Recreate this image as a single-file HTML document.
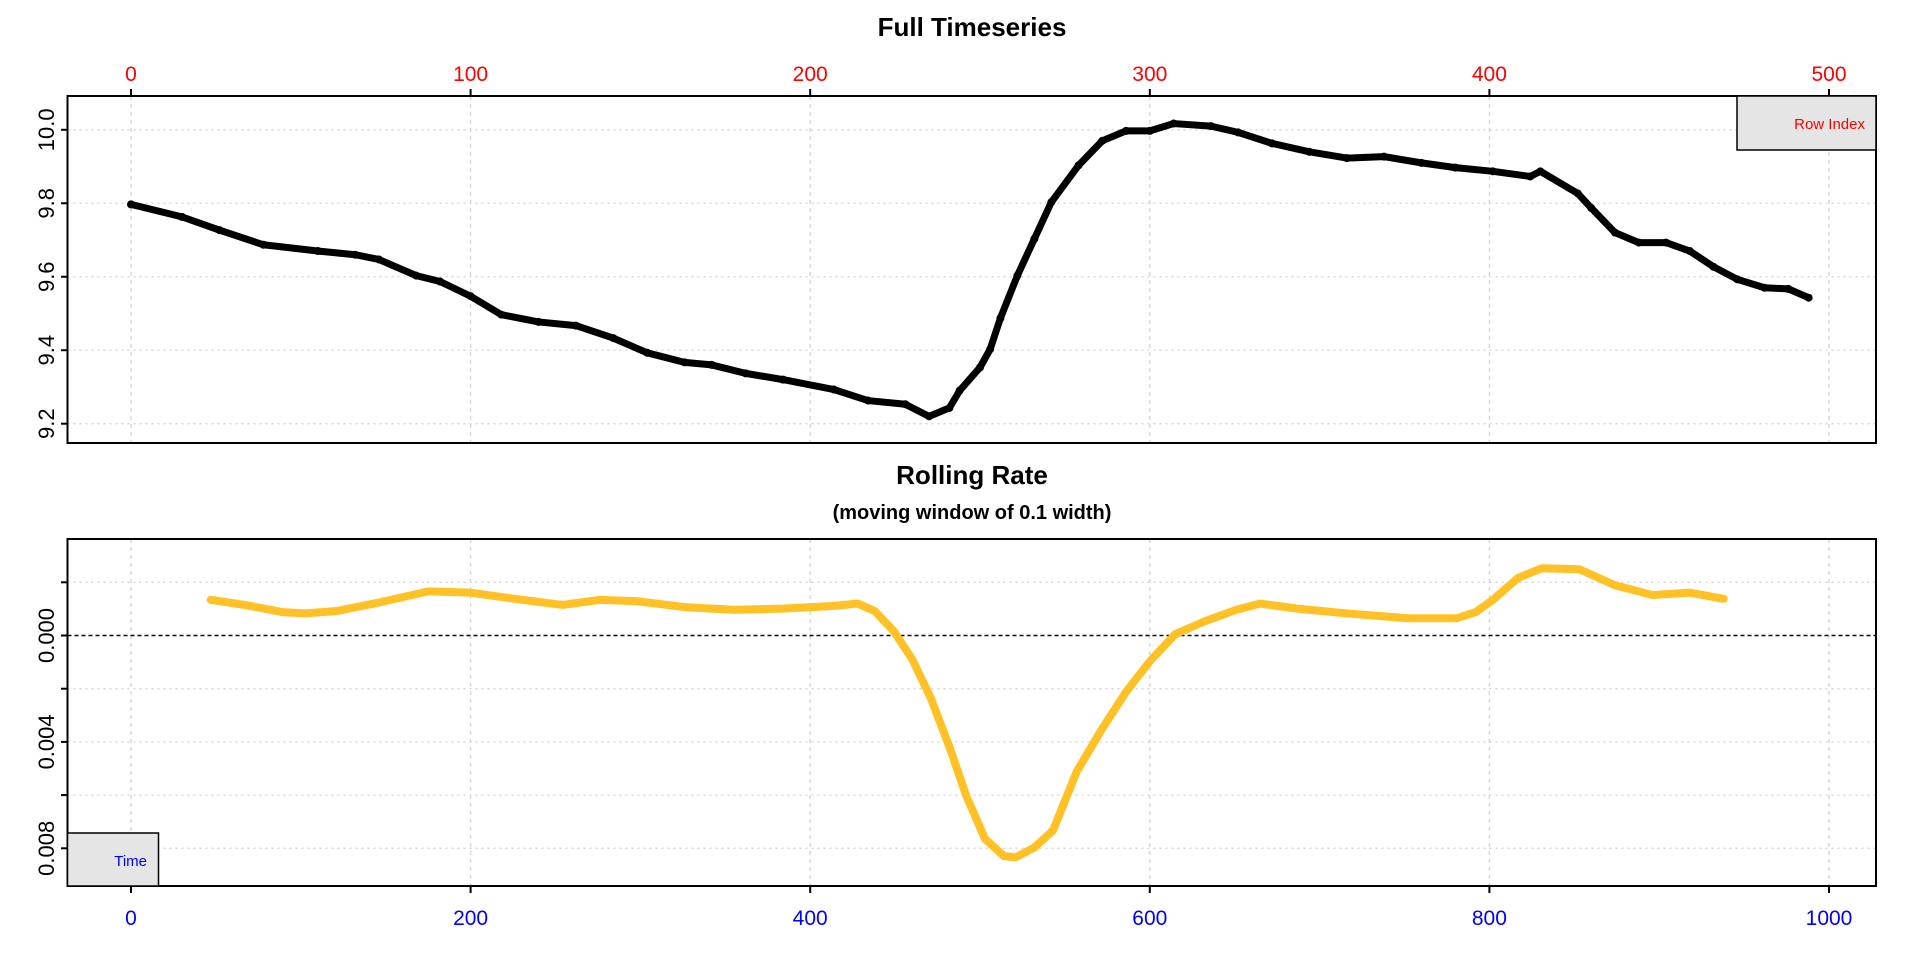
<!DOCTYPE html>
<html><head><meta charset="utf-8"><style>
html,body{margin:0;padding:0;background:#fff;}
svg{display:block;font-family:"Liberation Sans",sans-serif;}
</style></head><body>
<svg id="chart" width="1920" height="960" viewBox="0 0 1920 960">
<rect width="1920" height="960" fill="#fff"/>
<g id="top"></g><g id="bot"></g>
</svg>
<script>
// ---- top panel data ----
const topIndex = [0,15,26,39,55,66,73,84,91,100,109,120,131,142,152,163,171,181,192,207,217,228,235,241,244,250,253,256,261,266,271,279,286,293,300,307,318,326,336,347,358,369,380,390,401,412,415,426,430,437,444,452,459,466,473,481,488,494];
const topValues = [9.797,9.763,9.727,9.687,9.67,9.66,9.647,9.603,9.587,9.547,9.497,9.477,9.467,9.433,9.393,9.367,9.36,9.337,9.32,9.293,9.263,9.253,9.22,9.243,9.29,9.353,9.403,9.487,9.603,9.703,9.803,9.903,9.97,9.997,9.997,10.017,10.01,9.993,9.963,9.94,9.923,9.927,9.91,9.897,9.887,9.873,9.887,9.827,9.787,9.72,9.693,9.693,9.67,9.627,9.593,9.57,9.567,9.543];
const topXTicks = [0,100,200,300,400,500];
const topYTicks = [9.2,9.4,9.6,9.8,10.0];
// ---- bottom panel data ----
const rateTime = [47,67,89,103,121,146,175,200,226,254,276,298,327,355,384,413,428,438,449,460,471,482,492,503,514,521,532,543,557,572,586,600,615,633,651,665,687,716,752,781,792,802,817,831,853,874,896,918,938];
const rateValues = [-0.00134,-0.00115,-0.00088,-0.00083,-0.00092,-0.00124,-0.00166,-0.00161,-0.00138,-0.00115,-0.00134,-0.00129,-0.00106,-0.00097,-0.00101,-0.00111,-0.0012,-0.00092,-0.00018,0.00088,0.00235,0.00419,0.00604,0.00765,0.00829,0.00834,0.00797,0.00733,0.00511,0.0035,0.00212,0.00097,-0.00005,-0.00055,-0.00097,-0.0012,-0.00101,-0.00083,-0.00065,-0.00065,-0.00088,-0.00134,-0.00217,-0.00253,-0.00249,-0.00189,-0.00152,-0.00161,-0.00138];
const botXTicks = [0,200,400,600,800,1000];
const botYTicks = [-0.002,0,0.002,0.004,0.006,0.008];
const botYLabels = ["","0.000","","0.004","","0.008"];

const NS="http://www.w3.org/2000/svg";
function mk(parent,tag,attrs){const e=document.createElementNS(NS,tag);for(const k in attrs)e.setAttribute(k,attrs[k]);parent.appendChild(e);return e;}
const L=67.5,R=1876;
const tx=i=>131+i*(1829-131)/500;
const ty=v=>129.8+(10-v)*(423.7-129.8)/0.8;
const bx=t=>131+t*(1829-131)/1000;
const by=v=>635.5+v/0.002*53.2;

const T=document.getElementById('top');
topXTicks.forEach(t=>{const g=mk(T,'line',{x1:tx(t),x2:tx(t),y1:96,y2:443,stroke:'#d3d3d3','stroke-width':1.3,'stroke-dasharray':'4,4'});

});
topYTicks.forEach(v=>{const g=mk(T,'line',{x1:L,x2:R,y1:ty(v),y2:ty(v),stroke:'#d3d3d3','stroke-width':1.3,'stroke-dasharray':'2,4'});

});
let pts=topIndex.map((i,k)=>tx(i)+','+ty(topValues[k])).join(' ');
const pl=mk(T,'polyline',{points:pts,fill:'none',stroke:'#000','stroke-width':7,'stroke-linejoin':'round','stroke-linecap':'round'});


topIndex.forEach((i,k)=>{const c=mk(T,'circle',{cx:tx(i),cy:ty(topValues[k]),r:4,fill:'#000'});

});
const tb=mk(T,'rect',{x:L,y:96,width:R-L,height:347,fill:'none',stroke:'#000','stroke-width':2});


topXTicks.forEach(t=>{mk(T,'line',{x1:tx(t),x2:tx(t),y1:89,y2:96,stroke:'#000','stroke-width':2});
const s=mk(T,'text',{x:tx(t),y:81,'text-anchor':'middle','font-size':21,fill:'#ff0000'});s.textContent=t;

});
topYTicks.forEach(v=>{mk(T,'line',{x1:61,x2:L,y1:ty(v),y2:ty(v),stroke:'#000','stroke-width':2});
const s=mk(T,'text',{x:0,y:0,'text-anchor':'middle','font-size':22,fill:'#000',transform:`translate(54,${ty(v)}) rotate(-90)`});s.textContent=v.toFixed(1);

});
let s=mk(T,'text',{x:972,y:36,'text-anchor':'middle','font-size':26,'font-weight':'bold'});s.textContent='Full Timeseries';


let lg=mk(T,'rect',{x:1737,y:96,width:139,height:54,fill:'#e5e5e5',stroke:'#000','stroke-width':1.5});


s=mk(T,'text',{x:1865,y:129,'text-anchor':'end','font-size':15,fill:'#ff0000'});s.textContent='Row Index';



const B=document.getElementById('bot');
botXTicks.forEach(t=>{const g=mk(B,'line',{x1:bx(t),x2:bx(t),y1:539,y2:886,stroke:'#d3d3d3','stroke-width':1.3,'stroke-dasharray':'4,4'});

});
botYTicks.forEach(v=>{if(v===0)return;const g=mk(B,'line',{x1:L,x2:R,y1:by(v),y2:by(v),stroke:'#d3d3d3','stroke-width':1.3,'stroke-dasharray':'2,4'});

});
const zl=mk(B,'line',{x1:L,x2:R,y1:by(0),y2:by(0),stroke:'#000','stroke-width':1.5,'stroke-dasharray':'4,3'});


pts=rateTime.map((t,k)=>bx(t)+','+by(rateValues[k])).join(' ');
const pl2=mk(B,'polyline',{points:pts,fill:'none',stroke:'#FFC125','stroke-width':8,'stroke-linejoin':'round','stroke-linecap':'round'});


const bb=mk(B,'rect',{x:L,y:539,width:R-L,height:347,fill:'none',stroke:'#000','stroke-width':2});


botXTicks.forEach(t=>{mk(B,'line',{x1:bx(t),x2:bx(t),y1:886,y2:893,stroke:'#000','stroke-width':2});
const s=mk(B,'text',{x:bx(t),y:925,'text-anchor':'middle','font-size':21,fill:'#0000ff'});s.textContent=t;

});
botYTicks.forEach((v,k)=>{mk(B,'line',{x1:61,x2:L,y1:by(v),y2:by(v),stroke:'#000','stroke-width':2});
if(!botYLabels[k])return;
const s=mk(B,'text',{x:0,y:0,'text-anchor':'middle','font-size':22,fill:'#000',transform:`translate(54,${by(v)}) rotate(-90)`});s.textContent=botYLabels[k];

});
s=mk(B,'text',{x:972,y:484,'text-anchor':'middle','font-size':26,'font-weight':'bold'});s.textContent='Rolling Rate';


s=mk(B,'text',{x:972,y:519,'text-anchor':'middle','font-size':20,'font-weight':'bold'});s.textContent='(moving window of 0.1 width)';


lg=mk(B,'rect',{x:L,y:833,width:91,height:53,fill:'#e5e5e5',stroke:'#000','stroke-width':1.5});


s=mk(B,'text',{x:147,y:866,'text-anchor':'end','font-size':15,fill:'#0000ff'});s.textContent='Time';


</script>
</body></html>
